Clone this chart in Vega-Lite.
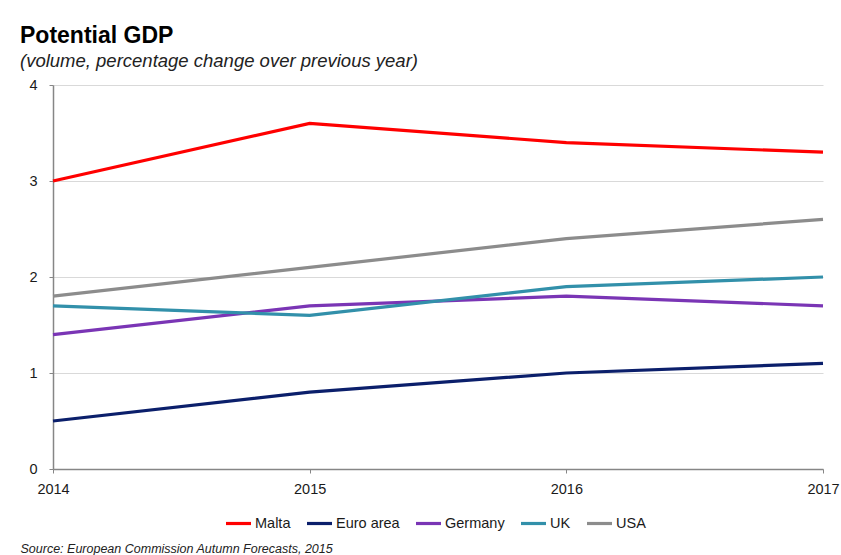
{
  "$schema": "https://vega.github.io/schema/vega-lite/v6.json",
  "autosize": "none",
  "width": 770,
  "height": 384,
  "padding": {"left": 53, "top": 85, "right": 18, "bottom": 86},
  "background": "white",
  "config": {
    "font": "Liberation Sans",
    "view": {"stroke": null}
  },
  "title": {
    "text": "Potential GDP",
    "subtitle": "(volume, percentage change over previous year)",
    "anchor": "start",
    "frame": "group",
    "dx": -33,
    "offset": 7,
    "fontSize": 23,
    "fontWeight": "bold",
    "color": "#000000",
    "subtitleFontSize": 18.5,
    "subtitleFontStyle": "italic",
    "subtitleColor": "#222222",
    "subtitlePadding": 4
  },
  "data": {
    "values": [
      {"year": "2014", "series": "Malta", "value": 3.0},
      {"year": "2015", "series": "Malta", "value": 3.6},
      {"year": "2016", "series": "Malta", "value": 3.4},
      {"year": "2017", "series": "Malta", "value": 3.3},
      {"year": "2014", "series": "Euro area", "value": 0.5},
      {"year": "2015", "series": "Euro area", "value": 0.8},
      {"year": "2016", "series": "Euro area", "value": 1.0},
      {"year": "2017", "series": "Euro area", "value": 1.1},
      {"year": "2014", "series": "Germany", "value": 1.4},
      {"year": "2015", "series": "Germany", "value": 1.7},
      {"year": "2016", "series": "Germany", "value": 1.8},
      {"year": "2017", "series": "Germany", "value": 1.7},
      {"year": "2014", "series": "UK", "value": 1.7},
      {"year": "2015", "series": "UK", "value": 1.6},
      {"year": "2016", "series": "UK", "value": 1.9},
      {"year": "2017", "series": "UK", "value": 2.0},
      {"year": "2014", "series": "USA", "value": 1.8},
      {"year": "2015", "series": "USA", "value": 2.1},
      {"year": "2016", "series": "USA", "value": 2.4},
      {"year": "2017", "series": "USA", "value": 2.6}
    ]
  },
  "mark": {"type": "line", "strokeWidth": 3.2},
  "encoding": {
    "x": {
      "field": "year",
      "type": "ordinal",
      "scale": {"type": "point", "padding": 0},
      "axis": {
        "title": "Source: European Commission Autumn Forecasts, 2015",
        "titleAnchor": "start",
        "titleAlign": "left",
        "titleX": -33,
        "titleY": 83,
        "titleBaseline": "alphabetic",
        "titleFontSize": 12.5,
        "titleFontStyle": "italic",
        "titleFontWeight": "normal",
        "titleColor": "#222222",
        "labelAngle": 0,
        "labelFontSize": 14.5,
        "labelColor": "#1a1a1a",
        "labelPadding": 9,
        "domainColor": "#868686",
        "domainWidth": 1.5,
        "tickColor": "#868686",
        "tickSize": 4,
        "grid": false
      }
    },
    "y": {
      "field": "value",
      "type": "quantitative",
      "scale": {"domain": [0, 4]},
      "axis": {
        "title": null,
        "values": [0, 1, 2, 3, 4],
        "labelFontSize": 14.5,
        "labelColor": "#1a1a1a",
        "labelPadding": 12,
        "domainColor": "#868686",
        "domainWidth": 1.5,
        "tickColor": "#868686",
        "tickSize": 4,
        "gridColor": "#D9D9D9",
        "gridWidth": 1
      }
    },
    "color": {
      "field": "series",
      "type": "nominal",
      "scale": {
        "domain": ["Malta", "Euro area", "Germany", "UK", "USA"],
        "range": ["#FF0000", "#0B1F6B", "#7A35B5", "#3290AA", "#8C8C8C"]
      },
      "legend": {
        "title": null,
        "orient": "none",
        "direction": "horizontal",
        "legendX": 171,
        "legendY": 424,
        "symbolType": "stroke",
        "symbolSize": 625,
        "symbolStrokeWidth": 3.2,
        "labelFontSize": 14.5,
        "labelColor": "#1a1a1a",
        "labelOffset": 2,
        "columnPadding": 9
      }
    }
  }
}
